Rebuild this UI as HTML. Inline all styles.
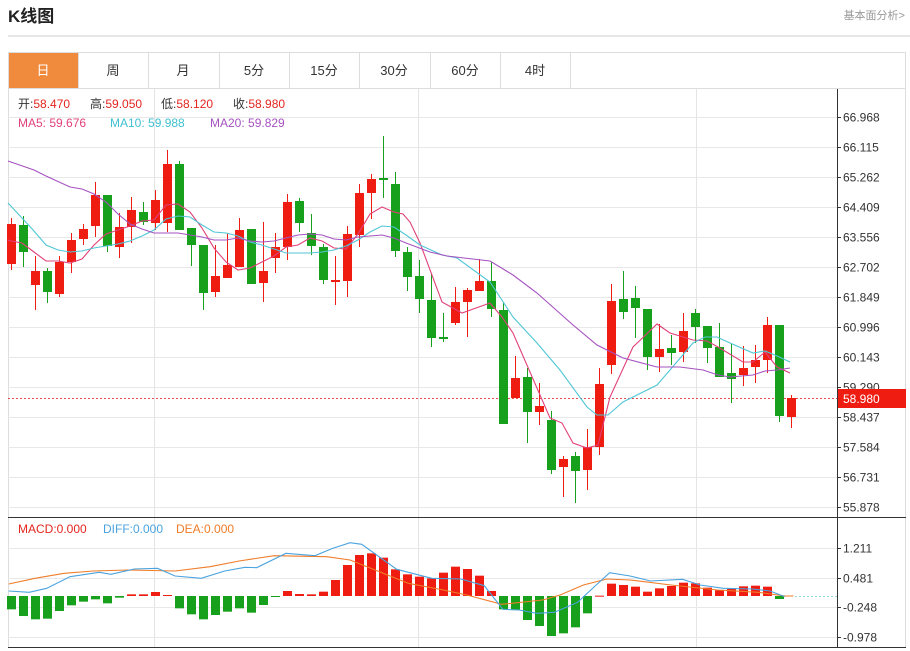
<!DOCTYPE html>
<html><head><meta charset="utf-8"><style>
html,body{margin:0;padding:0;background:#fff;width:910px;height:651px;overflow:hidden;font-family:"Liberation Sans","Noto Sans CJK SC",sans-serif}
</style></head><body>
<svg id="s" width="910" height="651" xmlns="http://www.w3.org/2000/svg" font-family="Liberation Sans, Noto Sans CJK SC, sans-serif">
<text x="8" y="22" font-size="17" font-weight="bold" fill="#222">K线图</text>
<text x="905" y="19" font-size="11" fill="#999" text-anchor="end">基本面分析&gt;</text>
<line x1="8" y1="36" x2="910" y2="36" stroke="#ccc"/>
<rect x="8.5" y="52.5" width="897" height="595" fill="none" stroke="#ddd"/>
<line x1="8" y1="88.5" x2="906" y2="88.5" stroke="#ddd"/>
<rect x="9" y="53" width="69" height="35" fill="#f08a3c"/>
<g font-size="13" fill="#333" text-anchor="middle">
<text x="43" y="75" fill="#fff">日</text>
<text x="113" y="75">周</text><text x="183" y="75">月</text><text x="254" y="75">5分</text>
<text x="324" y="75">15分</text><text x="394" y="75">30分</text><text x="465" y="75">60分</text><text x="535" y="75">4时</text>
</g>
<g stroke="#ddd"><line x1="78.5" y1="53" x2="78.5" y2="88"/><line x1="148.5" y1="53" x2="148.5" y2="88"/><line x1="219.5" y1="53" x2="219.5" y2="88"/><line x1="289.5" y1="53" x2="289.5" y2="88"/><line x1="359.5" y1="53" x2="359.5" y2="88"/><line x1="430.5" y1="53" x2="430.5" y2="88"/><line x1="500.5" y1="53" x2="500.5" y2="88"/><line x1="570.5" y1="53" x2="570.5" y2="88"/></g>
<g id="grid"></g>
<g id="c"></g>
<g font-size="12">
<text y="108"><tspan x="18" fill="#333">开:</tspan><tspan fill="#e4251f">58.470</tspan><tspan x="90" fill="#333">高:</tspan><tspan fill="#e4251f">59.050</tspan><tspan x="161" fill="#333">低:</tspan><tspan fill="#e4251f">58.120</tspan><tspan x="233" fill="#333">收:</tspan><tspan fill="#e4251f">58.980</tspan></text>
<text y="127"><tspan x="18" fill="#e0407a">MA5: 59.676</tspan><tspan x="110" fill="#3fc0d0">MA10: 59.988</tspan><tspan x="210" fill="#a552c0">MA20: 59.829</tspan></text>
<text y="533"><tspan x="18" fill="#e4251f">MACD:0.000</tspan><tspan x="103" fill="#4aa3df">DIFF:0.000</tspan><tspan x="176" fill="#f07c28">DEA:0.000</tspan></text>
</g>
</svg>
<script>
var NS="http://www.w3.org/2000/svg",s=document.getElementById('s'),g=document.getElementById('grid'),c=document.getElementById('c');
function el(p,t,a){var e=document.createElementNS(NS,t);for(var k in a)e.setAttribute(k,a[k]);p.appendChild(e);return e;}
var labs=["66.968","66.115","65.262","64.409","63.556","62.702","61.849","60.996","60.143","59.290","58.437","57.584","56.731","55.878"];
for(var i=0;i<14;i++){var y=117+30*i+.5;el(g,'line',{x1:8,y1:y,x2:837,y2:y,stroke:'#e8e8e8'});el(g,'line',{x1:837,y1:y,x2:841,y2:y,stroke:'#333'});var t=el(g,'text',{x:843,y:y+4,'font-size':12,fill:'#333'});t.textContent=labs[i];}
[154.5,418.5,696.5].forEach(function(x){el(g,'line',{x1:x,y1:89,x2:x,y2:647,stroke:'#e4e4e4'});});
var ml=[[548,"1.211"],[578,"0.481"],[607,"-0.248"],[637,"-0.978"]];
ml.forEach(function(m){var y=m[0]+.5;el(g,'line',{x1:8,y1:y,x2:837,y2:y,stroke:'#e8e8e8'});el(g,'line',{x1:837,y1:y,x2:841,y2:y,stroke:'#333'});var t=el(g,'text',{x:843,y:y+4,'font-size':12,fill:'#333'});t.textContent=m[1];});
el(g,'line',{x1:8,y1:517.5,x2:906,y2:517.5,stroke:'#333'});
el(g,'line',{x1:8,y1:647.5,x2:906,y2:647.5,stroke:'#333'});
el(g,'line',{x1:837.5,y1:89,x2:837.5,y2:648,stroke:'#333'});
var R='#ee1c11',G='#17a01b';
var d=[[224,264,218,270,R],[225,252,216,267,G],[271,285,256,310,R],[271,292,268,303,G],[262,294,256,297,R],[240,262,233,273,R],[229,239,224,245,R],[195,226,182,237,R],[195,246,195,252,G],[227,247,213,258,R],[210,227,197,243,R],[212,222,202,225,G],[200,223,190,230,R],[164,223,150,232,R],[164,230,161,230,G],[228,245,228,266,G],[245,293,245,310,G],[276,292,245,297,R],[265,278,233,278,R],[230,267,218,267,R],[229,284,229,284,G],[271,283,222,302,R],[247,258,233,273,R],[202,247,194,260,R],[201,223,198,232,G],[233,246,214,255,G],[247,280,244,284,G],[280,282,256,305,R],[234,281,226,297,R],[193,235,184,247,R],[179,193,174,219,R],[178,180,136,198,G],[184,251,172,257,G],[252,277,247,291,G],[276,299,260,313,G],[300,338,273,347,G],[337,339,313,342,G],[302,323,287,325,R],[290,302,288,337,R],[281,291,259,291,R],[281,309,262,317,G],[310,424,303,424,G],[378,398,356,398,R],[377,412,368,443,G],[406,412,383,425,R],[420,470,411,474,G],[459,467,456,497,R],[456,471,452,503,G],[447,470,429,490,R],[384,447,368,455,R],[301,365,284,374,R],[299,312,271,319,G],[298,308,286,338,G],[309,357,309,370,G],[349,357,324,372,R],[348,353,335,365,G],[331,352,313,362,R],[313,327,309,343,G],[326,348,326,363,G],[347,377,323,377,G],[373,379,344,403,G],[368,375,346,386,R],[360,367,345,383,R],[325,360,317,373,R],[325,416,325,422,G],[398,417,395,428,R]];
el(c,'line',{x1:8,y1:398.5,x2:837,y2:398.5,stroke:'#e05050','stroke-dasharray':'2,2'});
el(c,'rect',{x:838,y:389,width:68,height:19,fill:'#ee1c11'});
var tt=el(c,'text',{x:843,y:403,'font-size':12,fill:'#fff'});tt.textContent='58.980';
d.forEach(function(k,i){var x=11+12*i;el(c,'line',{x1:x+.5,y1:k[2],x2:x+.5,y2:k[3],stroke:k[4]});el(c,'rect',{x:x-4,y:k[0],width:9,height:Math.max(1,k[1]-k[0]),fill:k[4]});});
function pl(pts,col){el(c,'polyline',{points:pts.map(function(p){return p.join(',')}).join(' '),fill:'none',stroke:col,'stroke-width':1.1});}
pl([[8,240],[11,241],[22,243],[34,252],[46,261],[58,261],[70,263],[82,259],[94,245],[106,234],[118,230],[130,226],[142,221],[154,220],[166,205],[178,204],[190,212],[202,228],[214,248],[226,262],[238,270],[250,268],[262,262],[274,256],[286,247],[298,245],[310,238],[322,241],[334,248],[346,249],[358,234],[370,214],[382,207],[394,212],[403,214],[410,222],[420,243],[442,302],[462,313],[490,303],[502,317],[513,333],[550,418],[562,423],[573,443],[587,448],[598,445],[610,397],[633,347],[657,324],[670,333],[693,340],[707,341],[718,347],[743,362],[753,362],[765,352],[777,367],[790,373]],'#e0407a');
pl([[8,203],[22,218],[34,231],[46,245],[58,250],[70,252],[82,251],[94,248],[106,246],[118,244],[130,241],[142,236],[154,230],[166,219],[178,216],[190,217],[202,225],[214,232],[226,233],[238,236],[250,242],[262,245],[274,249],[286,253],[298,253],[310,253],[322,252],[334,250],[346,246],[358,240],[370,232],[382,226],[394,227],[406,235],[420,245],[442,255],[457,258],[490,282],[513,317],[537,343],[560,370],[587,407],[597,415],[608,415],[623,402],[657,385],[670,370],[693,343],[705,337],[717,337],[730,343],[753,353],[765,351],[777,356],[790,362]],'#4fc6d6');
pl([[8,161],[34,170],[46,176],[70,187],[82,189],[94,194],[106,202],[118,214],[130,224],[142,229],[154,233],[178,233],[190,235],[202,237],[214,240],[226,240],[238,238],[250,241],[262,242],[274,241],[286,238],[298,235],[310,234],[322,235],[334,239],[346,240],[358,237],[370,236],[382,235],[394,238],[406,243],[430,252],[447,256],[490,261],[513,275],[537,293],[573,325],[597,345],[623,358],[657,367],[680,367],[703,370],[718,375],[730,377],[753,375],[765,371],[777,370],[790,368]],'#a552c0');
var mb=[283,303,313,311,288,271,260,253,265,248,238,238,231,240,280,298,313,300,290,280,293,270,245,228,237,238,230,195,150,120,115,128,163,178,185,190,173,155,162,182,228,283,285,315,333,363,355,337,295,242,206,210,215,230,220,213,203,205,218,226,222,214,212,215,252];
var z=596;
mb.forEach(function(v,i){var y=515+v/3,x=11+12*i;var col=y>z?G:R;el(c,'rect',{x:x-4,y:Math.min(y,z),width:9,height:Math.max(1,Math.abs(y-z)),fill:col});});
function cv(a){return a.map(function(p){return [p[0]/1.714,515+p[1]/3];});}
pl(cv([[15,207],[60,190],[110,175],[160,168],[220,165],[300,168],[360,155],[410,138],[470,122],[560,125],[600,135],[650,170],[700,205],[760,225],[800,240],[860,268],[930,255],[960,240],[1000,210],[1040,192],[1080,195],[1150,210],[1230,225],[1300,232],[1345,243],[1360,243]]),'#f07c28');
pl(cv([[15,228],[50,232],[80,220],[120,185],[170,172],[190,178],[230,162],[270,160],[300,183],[345,190],[385,168],[420,157],[440,158],[490,115],[540,122],[570,100],[600,83],[620,88],[680,163],[740,190],[790,192],[830,212],[862,283],[890,285],[920,295],[950,292],[990,262],[1020,213],[1045,173],[1080,183],[1115,198],[1170,193],[1200,210],[1240,220],[1290,222],[1320,228],[1345,245]]),'#4aa3df');
el(c,'line',{x1:795,y1:596.5,x2:837,y2:596.5,stroke:'#8fd3e0','stroke-dasharray':'2,2'});
</script>
</body></html>
